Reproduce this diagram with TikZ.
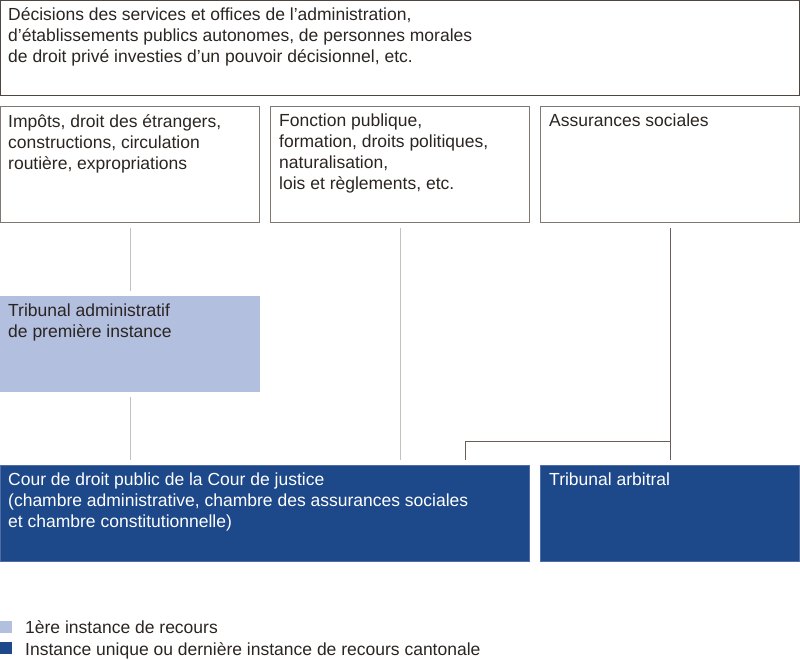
\documentclass[tikz,border=0pt]{standalone}
\usepackage{fontspec}
\setmainfont{Liberation Sans}
\definecolor{lightbox}{HTML}{B3BFDF}
\definecolor{darkbox}{HTML}{1D4889}
\definecolor{darkedge}{HTML}{4F6CA6}
\definecolor{topedge}{HTML}{4E4640}
\definecolor{midedge}{HTML}{7E7772}
\definecolor{lightline}{HTML}{C6C1BD}
\definecolor{darkline}{HTML}{6A5F58}
\definecolor{txt}{HTML}{2B2522}
\begin{document}
\begin{tikzpicture}[x=1pt,y=-1pt,
  box/.style={draw, line width=1pt, anchor=north west, inner sep=0pt, outer sep=0pt},
  boxtext/.style={anchor=north west, align=left, inner sep=0pt, text=txt, font=\fontsize{17.5}{21}\selectfont},
  conn/.style={line width=1pt, shorten <=5pt, shorten >=5pt},
  key/.style={anchor=north west, inner sep=0pt, minimum width=12pt, minimum height=12pt},
  keytext/.style={anchor=base west, inner sep=0pt, text=txt, font=\fontsize{17.5}{21}\selectfont}]
\useasboundingbox (0,0) rectangle (800,659);
% top
\node[box, draw=topedge, minimum width=799pt, minimum height=95pt] (top) at (0.5,0.5) {};
\node[boxtext] (toptxt) at (8,7.8) {Décisions des services et offices de l’administration,\\d’établissements publics autonomes, de personnes morales\\de droit privé investies d’un pouvoir décisionnel, etc.};
% row 2
\node[box, draw=midedge, minimum width=259pt, minimum height=116pt] (b1) at (0.5,106.5) {};
\node[box, draw=midedge, minimum width=259pt, minimum height=116pt] (b2) at (270.5,106.5) {};
\node[box, draw=midedge, minimum width=259pt, minimum height=116pt] (b3) at (540.5,106.5) {};
\node[boxtext] (b1txt) at (8,114) {Impôts, droit des étrangers,\\constructions, circulation\\routière, expropriations};
\node[boxtext] (b2txt) at (279,114) {Fonction publique,\\formation, droits politiques,\\naturalisation,\\lois et règlements, etc.};
\node[boxtext] (b3txt) at (549,114) {Assurances sociales};
% first instance
\node[box, draw=none, fill=lightbox, minimum width=260pt, minimum height=96pt] (ta) at (0,296) {};
\node[boxtext] (tatxt) at (8,304) {Tribunal administratif\\de première instance};
% last instance
\node[box, draw=darkedge, fill=darkbox, line width=0.8pt, minimum width=529pt, minimum height=96pt] (cdp) at (0.5,465) {};
\node[box, draw=darkedge, fill=darkbox, line width=0.8pt, minimum width=259pt, minimum height=96pt] (arb) at (540.5,465) {};
\node[boxtext, text=white] (cdptxt) at (8,473) {Cour de droit public de la Cour de justice\\(chambre administrative, chambre des assurances sociales\\et chambre constitutionnelle)};
\node[boxtext, text=white] (arbtxt) at (549,473) {Tribunal arbitral};
% connectors
\draw[conn, lightline] (b1.south -| 130,0) -- (ta.north -| 130,0);
\draw[conn, lightline] (ta.south -| 130,0) -- (cdp.north -| 130,0);
\draw[conn, lightline] (b2.south -| 400,0) -- (cdp.north -| 400,0);
\draw[conn, darkline] (b3.south) -- (arb.north);
\coordinate (br) at (670,441);
\draw[darkline, line width=1pt, shorten >=5pt] (br) -- (465,441) -- (cdp.north -| 465,0);
% legend
\node[key, fill=lightbox] (k1) at (0,621) {};
\node[key, fill=darkbox] (k2) at (0,642) {};
\node[keytext] (l1) at (25,633) {1ère instance de recours};
\node[keytext] (l2) at (25,655) {Instance unique ou dernière instance de recours cantonale};
\end{tikzpicture}
\end{document}
